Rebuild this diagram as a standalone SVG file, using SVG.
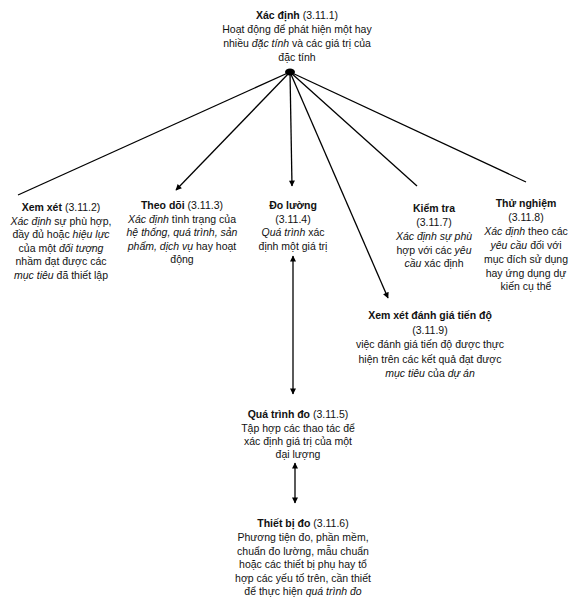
<svg xmlns="http://www.w3.org/2000/svg" width="576" height="614" viewBox="0 0 576 614">
<defs>
<marker id="ah" viewBox="0 0 10 10" refX="9" refY="5" markerWidth="7" markerHeight="6" markerUnits="userSpaceOnUse" orient="auto-start-reverse">
<path d="M0,0 L10,5 L0,10 z" fill="#000"/>
</marker>
<style>
text{font-family:"Liberation Sans",Arial,sans-serif;font-size:10.5px;fill:#111;text-anchor:middle}
.b{font-weight:bold}
.i{font-style:italic}
.ln{stroke:#000;stroke-width:1.3;fill:none}
</style>
</defs>
<rect width="576" height="614" fill="#fff"/>
<g id="connectors">
<line class="ln" x1="290" y1="72" x2="18" y2="195"/>
<line class="ln" x1="290" y1="72" x2="176" y2="190" marker-end="url(#ah)"/>
<line class="ln" x1="290" y1="72" x2="292" y2="186" marker-end="url(#ah)"/>
<line class="ln" x1="290" y1="72" x2="388" y2="298" marker-end="url(#ah)"/>
<line class="ln" x1="290" y1="72" x2="417" y2="186"/>
<line class="ln" x1="290" y1="72" x2="526" y2="182"/>
<line class="ln" x1="293" y1="256" x2="293" y2="394" marker-start="url(#ah)" marker-end="url(#ah)"/>
<line class="ln" x1="295" y1="463" x2="295" y2="503" marker-start="url(#ah)" marker-end="url(#ah)"/>
<ellipse cx="290" cy="72" rx="5" ry="3.5" fill="#000"/>
</g>
<g id="n3111">
<text x="297" y="19"><tspan class="b">Xác định</tspan> (3.11.1)</text>
<text x="297" y="33">Hoạt động để phát hiện một hay</text>
<text x="297" y="47">nhiều <tspan class="i">đặc tính</tspan> và các giá trị của</text>
<text x="297" y="61">đặc tính</text>
</g>
<g id="n3112">
<text x="61" y="211"><tspan class="b">Xem xét</tspan> (3.11.2)</text>
<text x="61" y="224.5"><tspan class="i">Xác định</tspan> sự phù hợp,</text>
<text x="61" y="238">đầy đủ hoặc <tspan class="i">hiệu lực</tspan></text>
<text x="61" y="251.5">của một <tspan class="i">đối tượng</tspan></text>
<text x="61" y="265">nhầm đạt được các</text>
<text x="61" y="278.5"><tspan class="i">mục tiêu</tspan> đã thiết lập</text>
</g>
<g id="n3113">
<text x="182" y="209"><tspan class="b">Theo dõi</tspan> (3.11.3)</text>
<text x="182" y="222.5"><tspan class="i">Xác định</tspan>  tình trạng của</text>
<text x="182" y="236"><tspan class="i">hệ thống, quá trình, sản</tspan></text>
<text x="182" y="249.5"><tspan class="i">phẩm, dịch vụ</tspan> hay hoạt</text>
<text x="182" y="263">động</text>
</g>
<g id="n3114">
<text x="293" y="209" class="b">Đo lường</text>
<text x="293" y="222.5">(3.11.4)</text>
<text x="293" y="236"><tspan class="i">Quá trình</tspan> xác</text>
<text x="293" y="249.5">định một giá trị</text>
</g>
<g id="n3117">
<text x="434" y="212" class="b">Kiểm tra</text>
<text x="434" y="226">(3.11.7)</text>
<text x="434" y="240"><tspan class="i">Xác định sự phù</tspan></text>
<text x="434" y="253.5">hợp với các <tspan class="i">yêu</tspan></text>
<text x="434" y="267"><tspan class="i">cầu</tspan> xác định</text>
</g>
<g id="n3118">
<text x="526" y="207" class="b">Thử nghiệm</text>
<text x="526" y="221">(3.11.8)</text>
<text x="526" y="234.5"><tspan class="i">Xác định</tspan> theo các</text>
<text x="526" y="248.5"><tspan class="i">yêu cầu</tspan> đối với</text>
<text x="526" y="262.5">mục đích sử dụng</text>
<text x="526" y="276.5">hay ứng dụng dự</text>
<text x="526" y="290">kiến cụ thể</text>
</g>
<g id="n3119">
<text x="430" y="319" class="b">Xem xét đánh giá tiến độ</text>
<text x="430" y="333.5">(3.11.9)</text>
<text x="430" y="348">việc đánh giá tiến độ được thực</text>
<text x="430" y="362.5">hiện trên các kết quả đạt được</text>
<text x="430" y="377"><tspan class="i">mục tiêu</tspan>  của <tspan class="i">dự án</tspan></text>
</g>
<g id="n3115">
<text x="298" y="418"><tspan class="b">Quá trình đo</tspan> (3.11.5)</text>
<text x="298" y="431.5">Tập hợp các thao tác để</text>
<text x="298" y="445">xác định giá trị của một</text>
<text x="298" y="458">đại lượng</text>
</g>
<g id="n3116">
<text x="303" y="527"><tspan class="b">Thiết bị đo</tspan> (3.11.6)</text>
<text x="303" y="541">Phương tiện đo, phần mềm,</text>
<text x="303" y="554.5">chuẩn đo lường, mẫu chuẩn</text>
<text x="303" y="568">hoặc các thiết bị phụ hay tổ</text>
<text x="303" y="581.5">hợp các  yếu tố trên, cần thiết</text>
<text x="303" y="595">để thực hiện <tspan class="i">quá trình đo</tspan></text>
</g>
</svg>
